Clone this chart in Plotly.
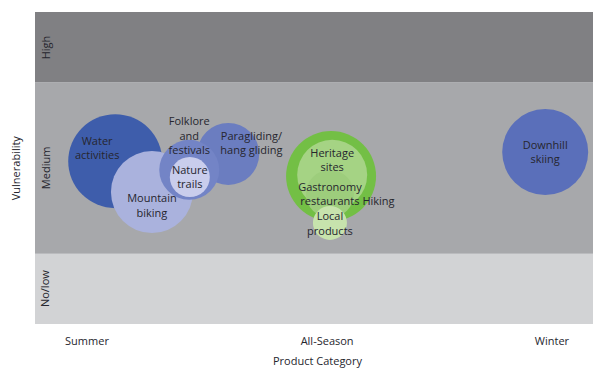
import plotly.graph_objects as go

# bubbles: product, season position (0-100), vulnerability (0-10), bubble diameter
products = ["Water activities", "Mountain biking", "Paragliding/hang gliding",
            "Folklore and festivals", "Nature trails", "Hiking", "Heritage sites",
            "Gastronomy restaurants", "Local products", "Downhill skiing"]
season_x = [14.2, 20.7, 34.2, 27.3, 27.4, 52.4, 52.6, 52.2, 52.2, 90.3]
vulner_y = [5.22, 4.23, 5.45, 4.94, 4.71, 4.74, 4.78, 4.17, 3.24, 5.51]
bubble_d = [94, 82, 62, 60, 40, 90, 70, 48, 34, 86]
colors = ["#3e5dab", "#aab2dd", "#6b7dc0", "#7384c6", "#c9cdec", "#73bf45",
          "#a5d384", "#9dcd7c", "#c7e3ad", "#5a6fba"]

labels = ["Water<br>activities", "Mountain<br>biking", "Paragliding/<br>hang gliding",
          "Folklore<br>and<br>festivals", "Nature<br>trails", "Hiking", "Heritage<br>sites",
          "Gastronomy<br>restaurants", "Local<br>products", "Downhill<br>skiing"]
label_x = [11.0, 20.7, 38.3, 27.3, 27.4, 60.8, 52.6, 52.2, 52.2, 90.3]
label_y = [5.6, 3.76, 5.77, 6.0, 4.68, 3.9, 5.22, 4.12, 3.18, 5.47]

bands = [(0, 2.25, "#d2d3d5", "No/low"), (2.25, 7.75, "#a7a8ab", "Medium"),
         (7.75, 10, "#808083", "High")]
tick_x = [9.2, 51.7, 91.5]
tick_text = ["Summer", "All-Season", "Winter"]

txt = dict(size=11, color="#26262e")

fig = go.Figure()
for x, y, d, c in zip(season_x, vulner_y, bubble_d, colors):
    fig.add_trace(go.Scatter(x=[x], y=[y], mode="markers",
                             marker=dict(size=d, color=c, line=dict(width=0), opacity=1),
                             hoverinfo="skip"))
fig.add_trace(go.Scatter(x=label_x, y=label_y, mode="text", text=labels,
                         textfont=txt, hovertext=products, hoverinfo="text"))

for y0, y1, c, name in bands:
    fig.add_shape(type="rect", xref="paper", yref="y", x0=0, x1=1, y0=y0, y1=y1,
                  fillcolor=c, line=dict(width=0), layer="below")
    fig.add_annotation(xref="paper", yref="y", x=0.018, y=(y0 + y1) / 2, text=name,
                       textangle=-90, showarrow=False, xanchor="center", yanchor="middle",
                       font=txt)

fig.add_annotation(xref="paper", yref="paper", x=-0.035, y=0.5, text="Vulnerability",
                   textangle=-90, showarrow=False, xanchor="center", font=txt)

fig.update_xaxes(range=[0, 100], tickvals=tick_x, ticktext=tick_text, showgrid=False,
                 zeroline=False, ticks="outside", ticklen=7, tickcolor="rgba(0,0,0,0)",
                 tickfont=txt, title=dict(text="Product Category", standoff=11, font=txt))
fig.update_yaxes(range=[0, 10], showticklabels=False, showgrid=False, zeroline=False)
# page adds an 8px body margin, so the figure is shrunk to fit the window
fig.update_layout(width=593, height=360, showlegend=False,
                  margin=dict(l=27, r=1, t=4, b=44),
                  plot_bgcolor="white", paper_bgcolor="white",
                  font=dict(family="Open Sans"))
fig.write_html("out.html")
